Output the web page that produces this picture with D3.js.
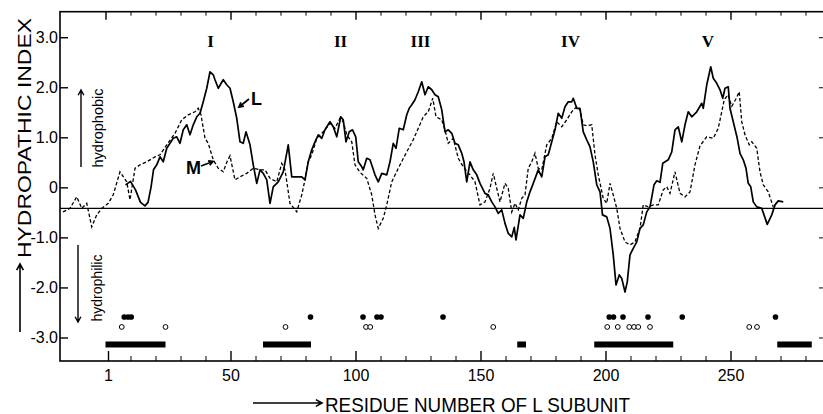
<!DOCTYPE html>
<html>
<head>
<meta charset="utf-8">
<script src="https://cdn.jsdelivr.net/npm/d3@7"></script>
<style>
body{margin:0;background:#fff;}
svg{display:block;font-family:"Liberation Sans",Arial,sans-serif;}
</style>
</head>
<body>
<svg width="823" height="414"></svg>
<script>
// hydropathy profile, L subunit (solid) : [residue, index]
var lProfile = [[8,0.05],[10,0.12],[12,-0.05],[14,-0.3],[15.8,-0.37],[17,-0.3],[18.2,0.0],[19.2,0.35],[20.5,0.45],[21.8,0.61],[23.1,0.51],[24.5,0.78],[25.8,0.88],[27.1,0.98],[28.5,1.01],[29.8,0.88],[31.1,1.15],[32.5,1.25],[33.8,1.05],[35.1,1.25],[36.5,1.41],[37.8,1.48],[39.1,1.71],[40.5,1.98],[41.8,2.31],[43.1,2.25],[43.8,2.15],[45.1,1.98],[47.1,2.15],[48.5,2.05],[49.8,1.98],[51.1,1.71],[52.5,1.38],[53.8,0.91],[55.1,0.88],[56.2,1.11],[57.8,0.85],[59.1,0.45],[60.5,0.08],[61.8,0.35],[63.1,0.28],[64.5,0.15],[65.8,-0.32],[67.1,0.01],[69.1,0.11],[71.1,0.31],[73.1,0.85],[74.5,0.21],[76.5,0.21],[78.5,0.21],[79.8,0.15],[81.1,0.51],[82.5,0.75],[83.8,0.91],[85.1,1.05],[86.5,0.98],[87.8,1.15],[89.8,1.31],[91.1,1.21],[92.5,1.01],[94.1,1.41],[95.1,1.35],[96.2,0.91],[97.5,1.11],[98.8,1.15],[100.1,1.01],[101.1,0.51],[102.5,0.41],[103.1,0.35],[104.5,0.58],[105.8,0.55],[107.8,0.25],[109.1,0.11],[110.5,0.28],[112.5,0.25],[113.8,0.51],[115.1,0.88],[116.2,0.78],[117.5,1.18],[119.1,1.15],[120.5,1.45],[121.5,1.58],[122.5,1.65],[123.8,1.75],[125.1,1.91],[126.5,2.11],[127.8,1.85],[129.1,2.01],[130.5,1.95],[131.8,1.85],[133.1,1.81],[134.5,1.55],[135.8,1.11],[137.1,1.15],[138.5,1.08],[139.8,0.88],[141.1,0.85],[142.5,0.68],[143.4,0.51],[144.5,0.11],[145.8,0.51],[147.1,0.35],[148.5,0.25],[149.8,0.08],[151.8,-0.12],[153.1,-0.15],[154.5,-0.29],[155.8,-0.39],[157.1,-0.52],[158.5,-0.45],[159.8,-0.72],[161.1,-0.92],[162.5,-0.99],[163.5,-0.8],[164.2,-1.05],[165.8,-0.55],[167.1,-0.62],[168.5,-0.29],[169.8,-0.09],[171.1,0.08],[173.1,0.35],[174.5,0.21],[175.8,0.61],[177.1,0.65],[178.5,0.91],[179.8,1.15],[181.1,1.48],[182.5,1.38],[183.8,1.61],[185.1,1.71],[186.5,1.71],[187.1,1.78],[188.5,1.58],[189.8,1.58],[191.1,1.11],[192.5,0.95],[193.8,0.81],[195.1,0.51],[196.5,0.05],[197.8,-0.09],[198.8,-0.55],[200.5,-0.59],[201.8,-0.82],[203.1,-1.35],[204.2,-1.95],[205.5,-1.75],[206.5,-1.82],[207.8,-2.09],[208.7,-1.89],[209.8,-1.35],[211.1,-1.22],[212.5,-1.09],[213.8,-0.82],[215.1,-0.75],[216.5,-0.49],[217.8,-0.39],[219.4,0.05],[220.5,0.13],[221.8,0.1],[222.9,0.48],[225.1,0.55],[226.5,0.71],[227.8,1.15],[229.1,1.21],[230.5,0.91],[231.8,1.25],[233.1,1.51],[234.5,1.41],[236.5,1.51],[238.5,1.68],[239.1,1.58],[240.5,2.05],[242.1,2.41],[243.1,2.18],[244.5,2.08],[245.8,1.95],[246.9,1.78],[247.8,1.98],[249.1,2.01],[249.8,1.58],[251.1,1.31],[252.7,0.98],[253.8,0.68],[255.1,0.55],[256.2,0.38],[257.1,0.08],[258.1,0.01],[259.1,-0.29],[260.5,-0.39],[262.5,-0.42],[264.7,-0.74],[266.5,-0.55],[267.8,-0.35],[269.1,-0.27],[271.1,-0.29]];

// M subunit (dashed), aligned to L numbering
var mProfile = [[-17,-0.49],[-14.2,-0.42],[-11.5,-0.19],[-9.5,-0.42],[-7.5,-0.32],[-5.5,-0.79],[-3.5,-0.55],[-1.5,-0.42],[1.1,-0.32],[3.1,-0.15],[5.8,0.31],[8.5,0.11],[9.8,-0.25],[11.8,0.38],[13.8,0.45],[16.5,0.51],[19.8,0.61],[21.8,0.65],[24.5,0.85],[27.8,1.08],[30.5,1.35],[33.1,1.45],[35.8,1.51],[37.1,1.58],[38.2,1.45],[39.8,0.98],[41.1,0.88],[43.1,0.55],[45.1,0.38],[47.1,0.31],[48.5,0.5],[49.8,0.63],[51.8,0.15],[53.8,0.21],[56.5,0.28],[59.1,0.38],[61.8,0.35],[63.8,0.35],[65.8,0.18],[68.5,0.11],[70.5,0.48],[71.8,0.35],[73.8,-0.32],[76.5,-0.49],[78.5,-0.15],[79.8,0.15],[81.1,0.51],[82.5,0.65],[84.5,0.98],[87.1,1.11],[89.8,1.28],[91.8,1.18],[93.8,1.38],[95.1,1.31],[96.5,1.05],[98.5,0.91],[99.8,0.45],[101.8,0.3],[104.5,0.18],[106.5,-0.15],[107.8,-0.55],[109.1,-0.82],[111.1,-0.62],[112.5,-0.35],[114.5,0.11],[117.1,0.38],[120.5,0.71],[123.1,0.95],[125.1,1.18],[127.1,1.41],[129.1,1.51],[130.9,1.78],[132.2,1.41],[134.5,1.35],[135.8,1.15],[137.1,0.88],[139.1,0.98],[141.1,0.58],[143.1,0.41],[145.8,0.25],[147.8,0.11],[149.8,-0.35],[151.8,-0.29],[153.8,-0.02],[155.1,0.28],[156.5,-0.02],[157.8,-0.29],[159.8,0.08],[161.1,-0.02],[162.5,-0.49],[163.8,-0.32],[165.1,-0.45],[166.5,-0.22],[167.8,-0.15],[169.1,0.38],[170.5,0.51],[171.8,0.68],[173.1,0.38],[174.5,0.35],[176.5,0.85],[178.5,0.98],[180.5,1.31],[182.5,1.21],[184.5,1.35],[186.5,1.51],[188.5,1.61],[189.8,1.55],[191.1,1.25],[192.5,1.23],[194.5,1.25],[195.8,0.65],[197.1,0.25],[199.1,-0.22],[200.5,-0.32],[201.8,0.08],[203.1,-0.15],[204.5,-0.42],[205.8,-0.82],[207.8,-1.09],[209.8,-1.15],[211.8,-1.09],[213.8,-0.82],[215.1,-0.35],[217.1,-0.39],[219.1,-0.35],[221.1,-0.35],[223.1,-0.05],[224.5,0.01],[225.8,-0.12],[227.8,0.31],[229.8,-0.12],[231.8,-0.19],[233.8,-0.09],[235.8,0.45],[237.8,0.83],[240.5,1.01],[243.1,0.98],[245.1,1.18],[247.5,1.75],[249,1.85],[250.5,1.62],[252,1.75],[253.5,1.91],[254.5,1.31],[255.8,1.05],[257.5,0.85],[258.5,0.91],[260.5,0.78],[261.8,0.31],[263.1,0.05],[265.1,-0.09],[267.1,-0.39]];

var meanIndex = -0.42;

// residue markers under the profile
var filledDots = [7.5, 9, 10.3, 82, 103, 108.6, 110.2, 135, 201.5, 203.2, 207, 217, 230.7, 268];
var openDots = [6.5, 24, 72, 104.2, 105.9, 155.1, 200.7, 204.9, 209.5, 211.4, 213.1, 217.8, 257.5, 260.6];
var spans = [[0, 24], [63, 82.2], [164.7, 168.2], [195.5, 227.1], [268.7, 282.5]];

var helixNames = ["I", "II", "III", "IV", "V"];
var helixPos = [42, 94, 126, 186, 241];

var yTicks = [3, 2, 1, 0, -1, -2, -3];
var yTickLabels = ["3.0", "2.0", "1.0", "0", "-1.0", "-2.0", "-3.0"];
var xTicks = [1, 50, 100, 150, 200, 250];
var xTickLabels = ["1", "50", "100", "150", "200", "250"];
var xMinor = [10,20,30,40,60,70,80,90,110,120,130,140,160,170,180,190,210,220,230,240,260,270,280];

var svg = d3.select("svg");

var x = d3.scaleLinear().domain([-18.2, 288.2]).range([60, 826]);
var y = d3.scaleLinear().domain([-3.47, 3.51]).range([361, 11.7]);

// frame
svg.append("rect")
	.attr("x", 60).attr("y", 11.7)
	.attr("width", 766).attr("height", 349.3)
	.attr("fill", "none").attr("stroke", "#000").attr("stroke-width", 1.6);

var yAxis = svg.append("g")
	.attr("transform", "translate(60,0)")
	.call(d3.axisLeft(y).tickValues(yTicks).tickFormat((d, i) => yTickLabels[i]).tickSizeInner(-8).tickSizeOuter(0).tickPadding(2));
yAxis.select(".domain").remove();
yAxis.selectAll("text").attr("font-size", 16).attr("font-family", "Liberation Sans, Arial, sans-serif").attr("fill", "#000");
yAxis.selectAll("line").attr("stroke-width", 1.4);

var yRight = svg.append("g")
	.attr("transform", "translate(826,0)")
	.call(d3.axisRight(y).tickValues(yTicks).tickFormat("").tickSizeInner(-7).tickSizeOuter(0));
yRight.select(".domain").remove();

var xAxis = svg.append("g")
	.attr("transform", "translate(0,361)")
	.call(d3.axisBottom(x).tickValues(xTicks).tickFormat((d, i) => xTickLabels[i]).tickSizeInner(-10).tickSizeOuter(0).tickPadding(9));
xAxis.select(".domain").remove();
xAxis.selectAll("text").attr("font-size", 16).attr("font-family", "Liberation Sans, Arial, sans-serif").attr("fill", "#000");
xAxis.selectAll("line").attr("stroke-width", 1.4);

var xAxisMinor = svg.append("g")
	.attr("transform", "translate(0,361)")
	.call(d3.axisBottom(x).tickValues(xMinor).tickFormat("").tickSizeInner(-5).tickSizeOuter(0));
xAxisMinor.select(".domain").remove();

var topTicks = xMinor.concat([0, 50, 100, 150, 200, 250]);
var xTop = svg.append("g")
	.attr("transform", "translate(0,11.7)")
	.call(d3.axisTop(x).tickValues(topTicks).tickFormat("").tickSizeInner(-4).tickSizeOuter(0));
xTop.select(".domain").remove();
xTop.selectAll(".tick line").filter(d => d % 50 == 0).attr("y2", 8).attr("stroke-width", 1.4);

// mean line
svg.append("line")
	.attr("x1", x.range()[0]).attr("x2", x.range()[1])
	.attr("y1", y(meanIndex)).attr("y2", y(meanIndex))
	.attr("stroke", "#000").attr("stroke-width", 1.4);

var line = d3.line().x(d => x(d[0])).y(d => y(d[1]));

svg.append("path")
	.datum(mProfile)
	.attr("d", line)
	.attr("fill", "none").attr("stroke", "#000")
	.attr("stroke-width", 1.3).attr("stroke-dasharray", "3.5,2.2");

svg.append("path")
	.datum(lProfile)
	.attr("d", line)
	.attr("fill", "none").attr("stroke", "#000")
	.attr("stroke-width", 1.7).attr("stroke-linejoin", "round");

// markers
svg.selectAll("circle.filled")
	.data(filledDots).enter().append("circle")
	.attr("class", "filled")
	.attr("cx", d => x(d)).attr("cy", y(-2.59))
	.attr("r", 2.8).attr("fill", "#000");

svg.selectAll("circle.open")
	.data(openDots).enter().append("circle")
	.attr("class", "open")
	.attr("cx", d => x(d)).attr("cy", y(-2.79))
	.attr("r", 2.4).attr("fill", "#fff").attr("stroke", "#000").attr("stroke-width", 1);

svg.selectAll("rect.span")
	.data(spans).enter().append("rect")
	.attr("class", "span")
	.attr("x", d => x(d[0])).attr("width", d => x(d[1]) - x(d[0]))
	.attr("y", y(-3.08)).attr("height", y(-3.2) - y(-3.08))
	.attr("fill", "#000");

// helix numerals
svg.selectAll("text.helix")
	.data(helixNames).enter().append("text")
	.attr("class", "helix")
	.attr("x", (d, i) => x(helixPos[i])).attr("y", 46.5)
	.attr("text-anchor", "middle")
	.attr("font-family", "Liberation Serif, DejaVu Serif, serif")
	.attr("font-weight", "bold").attr("font-size", 17)
	.text(d => d);

function arrow(x1, y1, x2, y2, s, w) {
	var a = Math.atan2(y2 - y1, x2 - x1);
	var p = "M" + x1 + "," + y1 + "L" + x2 + "," + y2 +
		"M" + (x2 - s * Math.cos(a - 0.5)) + "," + (y2 - s * Math.sin(a - 0.5)) +
		"L" + x2 + "," + y2 +
		"L" + (x2 - s * Math.cos(a + 0.5)) + "," + (y2 - s * Math.sin(a + 0.5));
	svg.append("path").attr("d", p).attr("fill", "none").attr("stroke", "#000").attr("stroke-width", w || 1.4);
}

// curve labels
svg.append("text").attr("x", 251).attr("y", 105).attr("font-size", 18).attr("font-weight", "bold").text("L");
arrow(249, 99, 239, 107, 5, 1.8);
svg.append("text").attr("x", 186).attr("y", 173.5).attr("font-size", 18).attr("font-weight", "bold").text("M");
arrow(201, 166, 213, 161.5, 5, 1.8);

// hydrophobic / hydrophilic
arrow(81, 167, 81, 90, 6, 1.4);
svg.append("text")
	.attr("transform", "translate(102.5,128) rotate(-90)")
	.attr("text-anchor", "middle").attr("font-size", 15)
	.attr("textLength", 79).attr("lengthAdjust", "spacingAndGlyphs")
	.text("hydrophobic");
arrow(78, 245, 78, 322, 6, 1.4);
svg.append("text")
	.attr("transform", "translate(101.5,288) rotate(-90)")
	.attr("text-anchor", "middle").attr("font-size", 15)
	.attr("textLength", 67).attr("lengthAdjust", "spacingAndGlyphs")
	.text("hydrophilic");

// axis titles
arrow(20, 332, 20, 264, 7, 1.6);
svg.append("text")
	.attr("transform", "translate(31,258) rotate(-90)")
	.attr("font-size", 18)
	.attr("textLength", 240).attr("lengthAdjust", "spacingAndGlyphs")
	.text("HYDROPATHIC  INDEX");

arrow(253, 403, 322, 403, 7, 1.6);
svg.append("text")
	.attr("x", 325).attr("y", 411.5)
	.attr("font-size", 21)
	.attr("textLength", 305).attr("lengthAdjust", "spacingAndGlyphs")
	.text("RESIDUE  NUMBER  OF  L  SUBUNIT");
</script>
</body>
</html>
